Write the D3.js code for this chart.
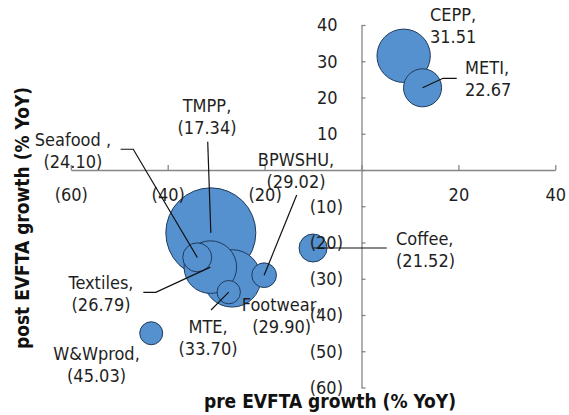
<!DOCTYPE html>
<html>
<head>
<meta charset="utf-8">
<script src="https://cdn.jsdelivr.net/npm/d3@7"></script>
<style>
  html, body { margin: 0; padding: 0; background: #fff; }
  svg { display: block; font-family: "DejaVu Sans Condensed", "DejaVu Sans", sans-serif; font-stretch: condensed; }
</style>
</head>
<body>
<svg id="chart" width="569" height="415"></svg>
<script>
// Product groups: pre- vs post-EVFTA export growth (% YoY), bubble = export weight
const products   = ["CEPP", "METI", "TMPP", "Seafood ", "Textiles", "Footwear", "MTE", "BPWSHU", "Coffee", "W&Wprod"];
const preGrowth  = [8.7, 12.6, -31.1, -33.9, -31.2, -26.7, -27.4, -20.1, -10.0, -43.4];
const postGrowth = [31.51, 22.67, -17.34, -24.10, -26.79, -29.90, -33.70, -29.02, -21.52, -45.03];
const bubbleSize = [35.6, 18.1, 101.3, 10.5, 34.6, 41.2, 6.8, 7.6, 9.8, 6.6];

const xTicks = [-60, -40, -20, 0, 20, 40];
const yTicks = [-60, -50, -40, -30, -20, -10, 0, 10, 20, 30, 40];
const xTitle = "pre EVFTA growth (% YoY)";
const yTitle = "post EVFTA growth (% YoY)";

// Label placement relative to each bubble centre (px): anchor, offset of first line, leader path
const labelLayout = {
  "CEPP":     { anchor: "start",  dx: 26.3,   dy: -34.8, leader: null },
  "METI":     { anchor: "start",  dx: 42.5,   dy: -13.8, leader: [[34.2, -9.5], [20.5, -9.5]] },
  "TMPP":     { anchor: "middle", dx: -3.8,   dy: -120.9, leader: [[-3.1, -91.2]] },
  "Seafood ": { anchor: "middle", dx: -124.3, dy: -111.4, leader: [[-76.6, -108.1], [-64, -108.1]] },
  "Textiles": { anchor: "middle", dx: -109.3, dy: 21.9,  leader: [[-67, 25.2], [-54.6, 25.2]] },
  "Footwear": { anchor: "middle", dx: 49.5,   dy: 33.1,  leader: null },
  "MTE":      { anchor: "middle", dx: -20.7,  dy: 40.8,  leader: [[-17.7, 17.8]] },
  "BPWSHU":   { anchor: "middle", dx: 31.9,   dy: -108.7, leader: [[32.6, -80.2]] },
  "Coffee":   { anchor: "start",  dx: 83,     dy: -3,    leader: [[73.7, 0]] },
  "W&Wprod":  { anchor: "middle", dx: -54.7,  dy: 26.8,  leader: null }
};

const fmt = v => v < 0 ? `(${Math.abs(v).toFixed(2)})` : v.toFixed(2);
const tickFmt = v => v < 0 ? `(${Math.abs(v)})` : `${v}`;

const svg = d3.select("#chart");
const axisColor = "#868686";
const textColor = "#1f1f1f";
const fontSize = 18;

const x = d3.scaleLinear().domain([-60, 40]).range([70.8, 555.3]);
const y = d3.scaleLinear().domain([-60, 40]).range([387.5, 25]);
const r = d3.scaleSqrt().domain([0, d3.max(bubbleSize)]).range([0, 45]);

const data = products.map((p, i) => ({
  name: p, pre: preGrowth[i], post: postGrowth[i], size: bubbleSize[i]
}));

// Axes crossing at the origin
const xAxis = d3.axisBottom(x).tickValues(xTicks).tickSizeInner(-5).tickSizeOuter(0)
  .tickPadding(18).tickFormat(d => d === 0 ? "" : tickFmt(d));
const yAxis = d3.axisLeft(y).tickValues(yTicks).tickSizeInner(-4).tickSizeOuter(0)
  .tickPadding(18.5).tickFormat(d => d === 0 ? "" : tickFmt(d));

const gx = svg.append("g").attr("transform", `translate(0,${y(0)})`).call(xAxis);
const gy = svg.append("g").attr("transform", `translate(${x(0)},0)`).call(yAxis);

[gx, gy].forEach(g => {
  g.select(".domain").attr("stroke", axisColor).attr("stroke-width", 1.3);
  g.selectAll(".tick line").attr("stroke", axisColor).attr("stroke-width", 1.3);
  g.selectAll(".tick text").attr("fill", textColor)
    .style("font-size", fontSize + "px").style("font-family", null);
  g.attr("font-family", null).attr("font-size", null);
});
// positive values keep a trailing gap where the closing bracket would be
gy.selectAll(".tick text").attr("dx", d => d > 0 ? -5.5 : 0);

// Bubbles, largest first so smaller ones sit on top
const bubbles = svg.append("g");
bubbles.selectAll("circle")
  .data(data.slice().sort((a, b) => b.size - a.size))
  .join("circle")
  .attr("cx", d => x(d.pre))
  .attr("cy", d => y(d.post))
  .attr("r", d => r(d.size))
  .attr("fill", "#5591ce")
  .attr("stroke", "#1f3a5c")
  .attr("stroke-width", 1);

// keep tick labels above the bubbles
gx.raise(); gy.raise();

// Leader lines
const line = d3.line();
svg.append("g").selectAll("path")
  .data(data.filter(d => labelLayout[d.name].leader))
  .join("path")
  .attr("d", d => {
    const cx = x(d.pre), cy = y(d.post);
    const pts = labelLayout[d.name].leader.map(([dx, dy]) => [cx + dx, cy + dy]);
    pts.push([cx, cy]);
    return line(pts);
  })
  .attr("fill", "none")
  .attr("stroke", "#111")
  .attr("stroke-width", 1.2);

// Data labels: name on the first line, post-EVFTA growth on the second
const labels = svg.append("g").selectAll("text")
  .data(data)
  .join("text")
  .attr("fill", textColor)
  .style("font-size", fontSize + "px")
  .attr("text-anchor", d => labelLayout[d.name].anchor);

labels.each(function(d) {
  const L = labelLayout[d.name];
  const tx = x(d.pre) + L.dx, ty = y(d.post) + L.dy;
  const t = d3.select(this);
  t.append("tspan").attr("x", tx).attr("y", ty).text(d.name + ",");
  t.append("tspan").attr("x", tx).attr("y", ty + 22).text(fmt(d.post));
});

// Axis titles
svg.append("text")
  .attr("x", 330).attr("y", 408)
  .attr("text-anchor", "middle")
  .attr("fill", "#111")
  .style("font-size", "19px").style("font-weight", "bold")
  .text(xTitle);

svg.append("text")
  .attr("transform", "translate(29,218) rotate(-90)")
  .attr("text-anchor", "middle")
  .attr("fill", "#111")
  .style("font-size", "19px").style("font-weight", "bold")
  .text(yTitle);
</script>
</body>
</html>
